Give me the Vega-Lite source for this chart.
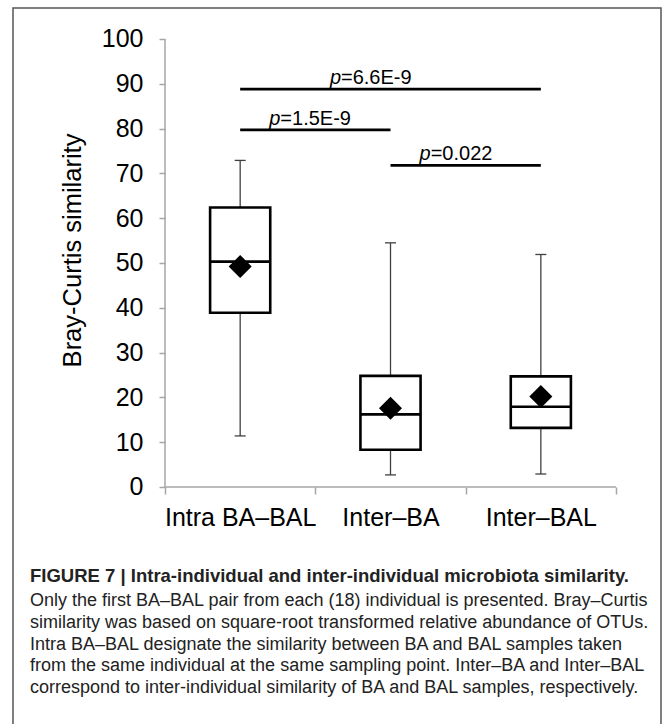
{
  "$schema": "https://vega.github.io/schema/vega-lite/v6.json",
  "width": 648,
  "height": 716,
  "autosize": {"type": "none"},
  "padding": {"left": 13, "top": 8, "right": 11, "bottom": 0},
  "background": "white",
  "config": {"view": {"stroke": null}, "font": "Liberation Sans"},
  "datasets": {
    "boxes": [
      {"category": "Intra BA–BAL", "min": 11.4, "q1": 38.9, "median": 50.3, "q3": 62.4, "max": 72.9, "mean": 49.2},
      {"category": "Inter–BA", "min": 2.7, "q1": 8.3, "median": 16.2, "q3": 24.8, "max": 54.5, "mean": 17.6},
      {"category": "Inter–BAL", "min": 2.9, "q1": 13.2, "median": 17.9, "q3": 24.7, "max": 51.9, "mean": 20.2}
    ],
    "pvals": [
      {"from": "Intra BA–BAL", "to": "Inter–BAL", "y": 88.8, "rest": "=6.6E-9"},
      {"from": "Intra BA–BAL", "to": "Inter–BA", "y": 79.7, "rest": "=1.5E-9"},
      {"from": "Inter–BA", "to": "Inter–BAL", "y": 71.8, "rest": "=0.022"}
    ],
    "captionTitle": [
      {"t": "FIGURE 7 | Intra-individual and inter-individual microbiota similarity."}
    ],
    "captionBody": [
      {"t": "Only the first BA–BAL pair from each (18) individual is presented. Bray–Curtis\nsimilarity was based on square-root transformed relative abundance of OTUs.\nIntra BA–BAL designate the similarity between BA and BAL samples taken\nfrom the same individual at the same sampling point. Inter–BA and Inter–BAL\ncorrespond to inter-individual similarity of BA and BAL samples, respectively."}
    ],
    "one": [{}]
  },
  "layer": [
    {
      "data": {"name": "boxes"},
      "mark": {"type": "rule", "color": "#404040", "strokeWidth": 1.3},
      "encoding": {
        "x": {
          "field": "category",
          "type": "nominal",
          "scale": {"domain": ["Intra BA–BAL", "Inter–BA", "Inter–BAL"], "paddingInner": 0, "paddingOuter": 0.6552, "align": 0.7716},
          "axis": {
            "title": null,
            "domain": false,
            "offset": -237,
            "tickBand": "extent",
            "tickColor": "#a6a6a6",
            "tickWidth": 1.5,
            "tickSize": 7,
            "labelAngle": 0,
            "labelFontSize": 25,
            "labelColor": "#000000",
            "labelPadding": 11,
            "labelFont": "Liberation Sans"
          }
        },
        "y": {
          "field": "min",
          "type": "quantitative",
          "scale": {"domain": [-52.9018, 106.9196], "nice": false, "zero": false},
          "axis": {
            "title": "Bray-Curtis similarity",
            "values": [0, 10, 20, 30, 40, 50, 60, 70, 80, 90, 100],
            "domain": false,
            "grid": false,
            "offset": -152,
            "tickColor": "#a6a6a6",
            "tickWidth": 1.5,
            "tickSize": 6,
            "labelFontSize": 25,
            "labelColor": "#000000",
            "labelPadding": 16,
            "labelFont": "Liberation Sans",
            "titleFont": "Liberation Sans",
            "titleFontSize": 25.5,
            "titleFontWeight": "normal",
            "titleColor": "#000000",
            "titleX": -93,
            "titleY": 242,
            "titleAngle": -90,
            "titleBaseline": "middle",
            "titleAlign": "center"
          }
        },
        "y2": {"field": "max"}
      }
    },
    {
      "data": {"name": "one"},
      "mark": {"type": "rect", "filled": false, "stroke": "#555555", "strokeWidth": 1.5},
      "encoding": {"y": {"datum": 106.9196}, "y2": {"datum": -70}}
    },
    {
      "data": {"name": "one"},
      "mark": {"type": "rule", "color": "#a6a6a6", "strokeWidth": 1.5},
      "encoding": {
        "x": {"datum": "Intra BA–BAL", "bandPosition": 0},
        "y": {"datum": 0},
        "y2": {"datum": 100}
      }
    },
    {
      "data": {"name": "one"},
      "mark": {"type": "rule", "color": "#a6a6a6", "strokeWidth": 1.5},
      "encoding": {
        "x": {"datum": "Intra BA–BAL", "bandPosition": 0},
        "x2": {"datum": "Inter–BAL", "bandPosition": 1},
        "y": {"datum": 0}
      }
    },
    {
      "data": {"name": "boxes"},
      "mark": {"type": "bar", "width": {"band": 0.4}, "fill": "white", "stroke": "black", "strokeWidth": 2.6},
      "encoding": {
        "x": {"field": "category", "type": "nominal"},
        "y": {"field": "q3", "type": "quantitative"},
        "y2": {"field": "q1"}
      }
    },
    {
      "data": {"name": "boxes"},
      "mark": {"type": "tick", "orient": "horizontal", "size": 60, "thickness": 2.6, "color": "black", "opacity": 1},
      "encoding": {
        "x": {"field": "category", "type": "nominal"},
        "y": {"field": "median", "type": "quantitative"}
      }
    },
    {
      "data": {"name": "boxes"},
      "mark": {"type": "tick", "orient": "horizontal", "size": 11, "thickness": 1.3, "color": "#404040", "opacity": 1},
      "encoding": {
        "x": {"field": "category", "type": "nominal"},
        "y": {"field": "min", "type": "quantitative"}
      }
    },
    {
      "data": {"name": "boxes"},
      "mark": {"type": "tick", "orient": "horizontal", "size": 11, "thickness": 1.3, "color": "#404040", "opacity": 1},
      "encoding": {
        "x": {"field": "category", "type": "nominal"},
        "y": {"field": "max", "type": "quantitative"}
      }
    },
    {
      "data": {"name": "boxes"},
      "mark": {"type": "point", "shape": "diamond", "filled": true, "size": 530, "color": "black", "opacity": 1},
      "encoding": {
        "x": {"field": "category", "type": "nominal"},
        "y": {"field": "mean", "type": "quantitative"}
      }
    },
    {
      "data": {"name": "pvals"},
      "mark": {"type": "rule", "color": "black", "strokeWidth": 2.7},
      "encoding": {
        "x": {"field": "from", "type": "nominal"},
        "x2": {"field": "to"},
        "y": {"field": "y", "type": "quantitative"}
      }
    },
    {
      "data": {"name": "pvals"},
      "transform": [{"filter": {"not": {"field": "rest", "equal": "=6.6E-9"}}}],
      "mark": {"type": "text", "align": "right", "baseline": "alphabetic", "fontStyle": "italic", "fontSize": 20, "dx": -35, "dy": -5, "color": "black", "font": "Liberation Sans"},
      "encoding": {
        "x": {"field": "from", "type": "nominal", "bandPosition": 1},
        "y": {"field": "y", "type": "quantitative"},
        "text": {"value": "p"}
      }
    },
    {
      "data": {"name": "pvals"},
      "transform": [{"filter": {"not": {"field": "rest", "equal": "=6.6E-9"}}}],
      "mark": {"type": "text", "align": "left", "baseline": "alphabetic", "fontSize": 20, "dx": -35, "dy": -5, "color": "black", "font": "Liberation Sans"},
      "encoding": {
        "x": {"field": "from", "type": "nominal", "bandPosition": 1},
        "y": {"field": "y", "type": "quantitative"},
        "text": {"field": "rest"}
      }
    },
    {
      "data": {"name": "pvals"},
      "transform": [{"filter": {"field": "rest", "equal": "=6.6E-9"}}],
      "mark": {"type": "text", "align": "right", "baseline": "alphabetic", "fontStyle": "italic", "fontSize": 20, "dx": -49.5, "dy": -5, "color": "black", "font": "Liberation Sans"},
      "encoding": {
        "x": {"field": "from", "type": "nominal", "bandPosition": 1.5},
        "y": {"field": "y", "type": "quantitative"},
        "text": {"value": "p"}
      }
    },
    {
      "data": {"name": "pvals"},
      "transform": [{"filter": {"field": "rest", "equal": "=6.6E-9"}}],
      "mark": {"type": "text", "align": "left", "baseline": "alphabetic", "fontSize": 20, "dx": -49.5, "dy": -5, "color": "black", "font": "Liberation Sans"},
      "encoding": {
        "x": {"field": "from", "type": "nominal", "bandPosition": 1.5},
        "y": {"field": "y", "type": "quantitative"},
        "text": {"field": "rest"}
      }
    },
    {
      "data": {"name": "captionTitle"},
      "mark": {"type": "text", "align": "left", "baseline": "alphabetic", "fontSize": 18.5, "fontWeight": "bold", "color": "#222222", "font": "Liberation Sans"},
      "encoding": {
        "x": {"datum": "Intra BA–BAL", "bandPosition": -0.898},
        "y": {"datum": -21.27},
        "text": {"field": "t"}
      }
    },
    {
      "data": {"name": "captionBody"},
      "mark": {"type": "text", "align": "left", "baseline": "alphabetic", "fontSize": 18, "lineBreak": "\n", "lineHeight": 21.8, "color": "#222222", "font": "Liberation Sans"},
      "encoding": {
        "x": {"datum": "Intra BA–BAL", "bandPosition": -0.898},
        "y": {"datum": -26.56},
        "text": {"field": "t"}
      }
    }
  ]
}
